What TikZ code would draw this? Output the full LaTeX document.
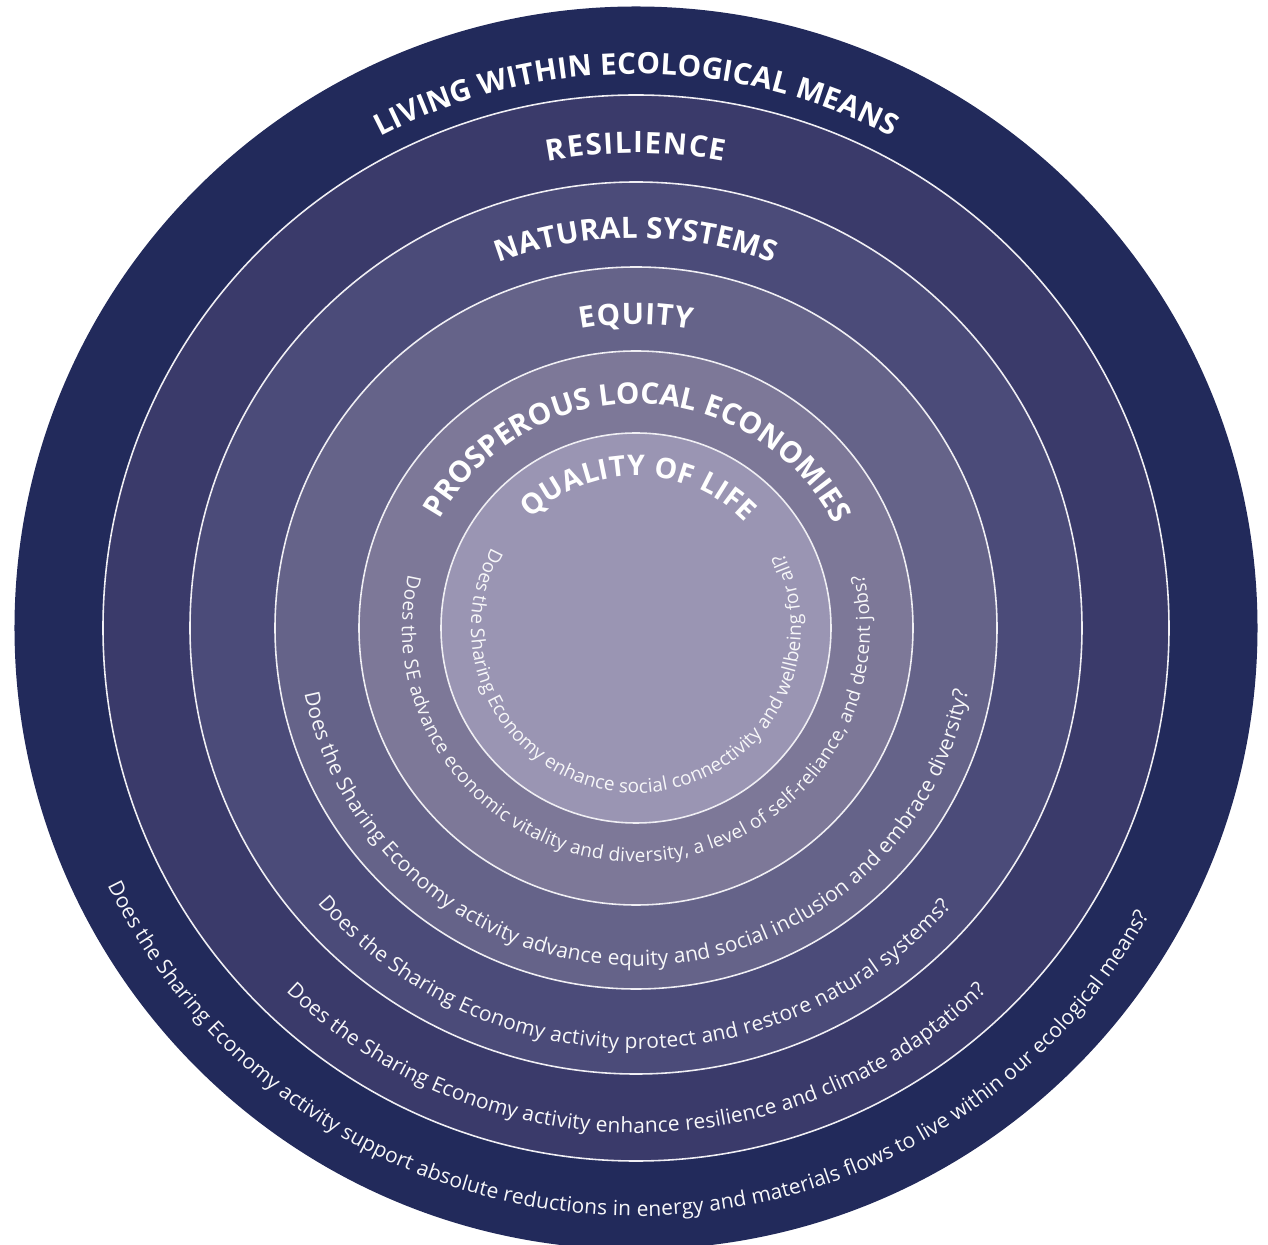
\documentclass[tikz,border=0pt]{standalone}
\usepackage{fontspec}
\setmainfont{Open Sans}
\usetikzlibrary{decorations.text}

\definecolor{ring0}{HTML}{222A5B}
\definecolor{ring1}{HTML}{3A3A6A}
\definecolor{ring2}{HTML}{4B4B79}
\definecolor{ring3}{HTML}{656389}
\definecolor{ring4}{HTML}{7D7898}
\definecolor{ring5}{HTML}{9A95B3}

\newcommand{\titlefont}{\fontsize{8.4}{9}\selectfont\bfseries\color{white}}
\newcommand{\titlefontsm}{\fontsize{8.1}{9}\selectfont\bfseries\color{white}}
\newcommand{\questfont}{\fontsize{5.95}{7}\selectfont\color{white!92!ring5}}
\newcommand{\questfontsm}{\fontsize{5.4}{6}\selectfont\color{white!92!ring5}}

\begin{document}
\begin{tikzpicture}[
		ring line/.style={draw=white!85!ring5, line width=0.45pt},
		title arc/.style={decorate, decoration={text along path, text align=fit to path}},
		question arc/.style={decorate, decoration={text along path, text align=fit to path}}
		]
		
		\useasboundingbox (-6.36,-6.17) rectangle (6.32,6.28);
		\coordinate (ctr) at (0,0);
		
		% === RINGS ===
		\foreach \r/\col in {6.215/ring0, 5.33/ring1, 4.46/ring2, 3.61/ring3, 2.77/ring4, 1.95/ring5} {
			\fill[\col] (ctr) circle (\r);
		}
		\foreach \r in {5.33, 4.46, 3.61, 2.77, 1.95} {
			\draw[ring line] (ctr) circle (\r);
		}
		
		% === RING TITLES (top) ===
		\path[title arc, decoration={text={|\titlefont|LIVING WITHIN ECOLOGICAL MEANS}}]
		(ctr) ++(117.5:5.54) arc[start angle=117.5, end angle=62.5, radius=5.54];
		\path[title arc, decoration={text={|\titlefont|RESILIENCE}}]
		(ctr) ++(100.7:4.75) arc[start angle=100.7, end angle=79.3, radius=4.75];
		\path[title arc, decoration={text={|\titlefont|NATURAL SYSTEMS}}]
		(ctr) ++(110.6:3.90) arc[start angle=110.6, end angle=69.4, radius=3.90];
		\path[title arc, decoration={text={|\titlefont|EQUITY}}]
		(ctr) ++(100.5:3.04) arc[start angle=100.5, end angle=79.5, radius=3.04];
		\path[title arc, decoration={text={|\titlefont|PROSPEROUS LOCAL ECONOMIES}}]
		(ctr) ++(151:2.24) arc[start angle=151, end angle=29, radius=2.24];
		\path[title arc, decoration={text={|\titlefontsm|QUALITY OF LIFE}}]
		(ctr) ++(134:1.52) arc[start angle=134, end angle=44, radius=1.52];
		
		% === QUESTIONS (bottom) ===
		\path[question arc, decoration={text={|\questfont|Does the Sharing Economy activity support absolute reductions in energy and materials flows to live within our ecological means?}}]
		(ctr) ++(206:5.88) arc[start angle=206, end angle=330.6, radius=5.88];
		\path[question arc, decoration={text={|\questfont|Does the Sharing Economy activity enhance resilience and climate adaptation?}}]
		(ctr) ++(226.1:5.05) arc[start angle=226.1, end angle=313.8, radius=5.05];
		\path[question arc, decoration={text={|\questfont|Does the Sharing Economy activity protect and restore natural systems?}}]
		(ctr) ++(220.8:4.21) arc[start angle=220.8, end angle=318.5, radius=4.21];
		\path[question arc, decoration={text={|\questfont|Does the Sharing Economy activity advance equity and social inclusion and embrace diversity?}}]
		(ctr) ++(191.2:3.38) arc[start angle=191.2, end angle=349.2, radius=3.38];
		\path[question arc, decoration={text={|\questfontsm|Does the SE advance economic vitality and diversity, a level of self-reliance, and decent jobs?}}]
		(ctr) ++(166.8:2.34) arc[start angle=166.8, end angle=373.3, radius=2.34];
		\path[question arc, decoration={text={|\questfontsm|Does the Sharing Economy enhance social connectivity and wellbeing for all?}}]
		(ctr) ++(151:1.65) arc[start angle=151, end angle=387, radius=1.65];
		
	\end{tikzpicture}
\end{document}
